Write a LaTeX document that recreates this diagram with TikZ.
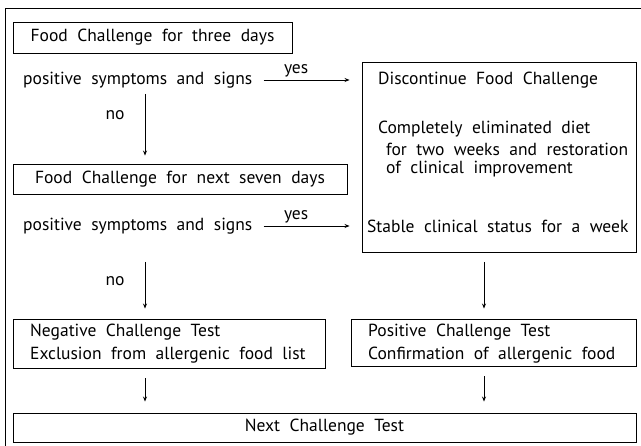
\documentclass[tikz,border=0pt]{standalone}
\usepackage{fontspec}
\setmainfont{PT Sans}
\usetikzlibrary{arrows.meta}
\newcommand\txtfont{\fontsize{17.5}{20}\selectfont\setlength{\spaceskip}{9.5pt plus 1pt minus 1pt}}
\begin{document}
\begin{tikzpicture}[x=1pt,y=-1pt,
  box/.style={draw, line width=0.9pt, inner sep=0pt},
  txt/.style={font=\txtfont, inner sep=0pt},
  arr/.style={-{Stealth[length=5pt,width=4pt]}, line width=0.8pt}]
\useasboundingbox (0,0) rectangle (641,446);
\fill[white] (0,0) rectangle (641,446);
\draw[line width=1pt] (641,9) -- (5,9) -- (5,446);
% row 1
\node[box, minimum width=279pt, minimum height=31pt] (b1) at (152.5,37.5) {};
\node[txt] (t1) at (b1.center) {Food Challenge for three days};
\node[txt, anchor=west] (p1) at (23,80) {positive symptoms and signs};
\node[box, minimum width=274pt, minimum height=190pt] (rb) at (499,157) {};
\node[txt, anchor=west] (r1) at (378,80) {Discontinue Food Challenge};
\node[txt, anchor=west] (r2) at (378,129) {Completely eliminated diet};
\node[txt, anchor=west] (r3) at (386,149) {for two weeks and restoration};
\node[txt, anchor=west] (r4) at (386,169) {of clinical improvement};
\node[txt, anchor=west] (r5) at (367,226) {Stable clinical status for a week};
\draw[arr, shorten <=11pt, shorten >=12pt] (p1.east) -- (p1.east -| rb.west) node[pos=0.4, above=3pt, txt] (y1) {yes};
% row 2
\node[box, minimum width=334pt, minimum height=30pt] (b2) at (180,179) {};
\node[txt] (t2) at (b2.center) {Food Challenge for next seven days};
\coordinate (c1) at (145,94);
\draw[arr, shorten >=8pt] (c1) -- (c1 |- b2.north);
\node[txt] (n1) at (115,115) {no};
\node[txt, anchor=west] (p2) at (23,226) {positive symptoms and signs};
\draw[arr, shorten <=11pt, shorten >=12pt] (p2.east) -- (p2.east -| rb.west) node[pos=0.4, above=3pt, txt] (y2) {yes};
% row 3
\node[box, minimum width=312pt, minimum height=49pt] (nb) at (169,343.5) {};
\node[txt, anchor=west] (nt1) at (30,332) {Negative Challenge Test};
\node[txt, anchor=west] (nt2) at (30,355) {Exclusion from allergenic food list};
\node[box, minimum width=285pt, minimum height=47pt] (pb) at (493.5,342.5) {};
\node[txt, anchor=west] (pt1) at (368,332) {Positive Challenge Test};
\node[txt, anchor=west] (pt2) at (368,355) {Confirmation of allergenic food};
\coordinate (c2) at (145,262);
\draw[arr, shorten >=10pt] (c2) -- (c2 |- nb.north);
\node[txt] (n2) at (115,281) {no};
\coordinate (c3) at (484,262);
\draw[arr, shorten >=10pt] (c3) -- (c3 |- pb.north);
% row 4
\node[box, minimum width=623pt, minimum height=29pt] (xb) at (324.5,427.5) {};
\node[txt] (xt) at (xb.center) {Next Challenge Test};
\draw[arr, shorten <=10pt, shorten >=11pt] (nb.south -| c2) -- (xb.north -| c2);
\draw[arr, shorten <=10pt, shorten >=11pt] (pb.south -| c3) -- (xb.north -| c3);
\end{tikzpicture}
\end{document}
